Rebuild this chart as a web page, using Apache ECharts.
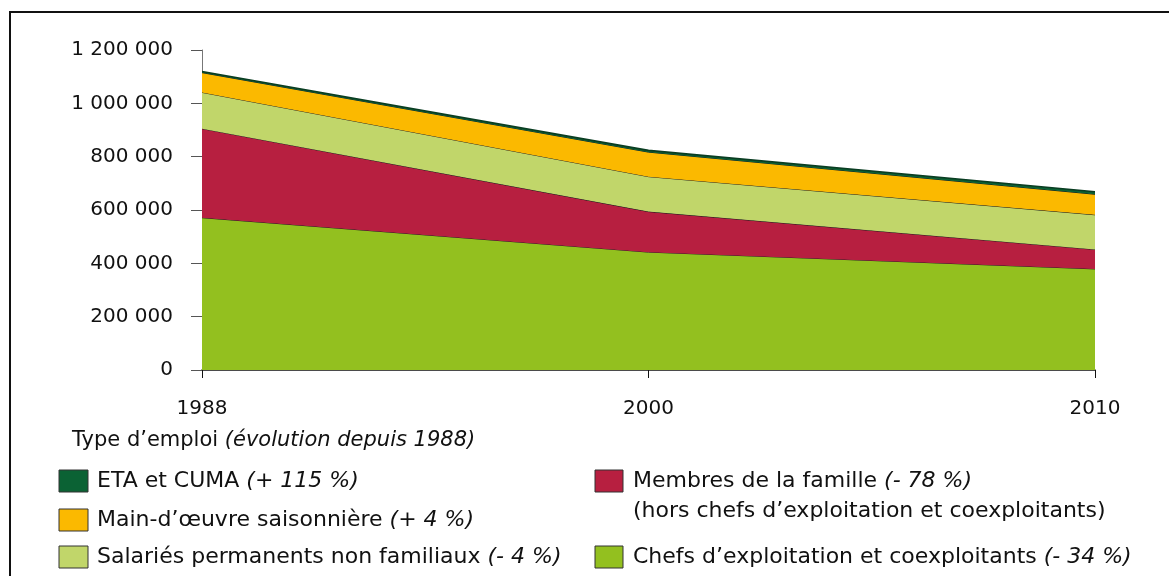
<!DOCTYPE html>
<html>
<head>
<meta charset="utf-8">
<script src="https://cdn.jsdelivr.net/npm/echarts@6/dist/echarts.min.js"></script>
<style>
html,body{margin:0;padding:0;background:#fff;}
#chart{width:1169px;height:576px;}
</style>
</head>
<body>
<div id="chart"></div>
<script>
// ---- data ----
const years = ['1988', '2000', '2010'];
const chefs = [571000, 442000, 379000];
const famille = [334000, 152000, 73000];
const salaries = [136000, 131000, 130000];
const saisonniers = [74000, 92000, 77000];
const etaCuma = [4500, 6500, 9700];

const seriesNames = ['Chefs d’exploitation et coexploitants', 'Membres de la famille', 'Salariés permanents non familiaux', 'Main-d’œuvre saisonnière', 'ETA et CUMA'];
const seriesColors = ['#93c01f', '#b71f40', '#c1d66a', '#fbb900', '#0b6234'];
const legendTitle = ['Type d’emploi', '(évolution depuis 1988)'];
const legendLeft = [
  ['ETA et CUMA', '(+ 115 %)', 4],
  ['Main-d’œuvre saisonnière', '(+ 4 %)', 3],
  ['Salariés permanents non familiaux', '(- 4 %)', 2]
];
const legendRight = [
  ['Membres de la famille', '(- 78 %)', 1, '(hors chefs d’exploitation et coexploitants)'],
  ['Chefs d’exploitation et coexploitants', '(- 34 %)', 0]
];

const seriesData = [chefs, famille, salaries, saisonniers, etaCuma];

const FONT = 'DejaVu Sans, Liberation Sans, sans-serif';
const FS = 20;
const LFS = 22;
const fmt = v => String(v).replace(/\B(?=(\d{3})+(?!\d))/g, ' ');

const chart = echarts.init(document.getElementById('chart'));

const series = seriesData.map((d, i) => ({
  name: seriesNames[i],
  type: 'line',
  stack: 'total',
  data: d,
  symbol: 'none',
  smooth: false,
  lineStyle: { color: i === 4 ? '#0a3d22' : '#1a1a1a', width: i === 4 ? 1.6 : 1 },
  areaStyle: { color: seriesColors[i], opacity: 1 },
  itemStyle: { color: seriesColors[i] },
  z: 2 + i
}));

const mkRich = fs => ({
  n: { fontSize: fs, fontFamily: FONT, fill: '#111' },
  i: { fontSize: fs, fontFamily: FONT, fontStyle: 'italic', fill: '#111' }
});
const rich = mkRich(LFS);

const graphics = [
  { type: 'rect', shape: { x: 10, y: 12, width: 1200, height: 600 }, style: { fill: 'none', stroke: '#111', lineWidth: 2 }, silent: true },
  { type: 'text', x: 72, y: 441, style: { text: '{n|' + legendTitle[0] + ' }{i|' + legendTitle[1] + '}', verticalAlign: 'middle', rich: mkRich(21) } }
];
const rowY = [481, 520, 557];
legendLeft.forEach((it, k) => {
  graphics.push({ type: 'rect', shape: { x: 59, y: rowY[k] - 11, width: 29, height: 22 }, style: { fill: seriesColors[it[2]], stroke: '#333', lineWidth: 1 } });
  graphics.push({ type: 'text', x: 97, y: rowY[k], style: { text: '{n|' + it[0] + ' }{i|' + it[1] + '}', verticalAlign: 'middle', rich: rich } });
});
const rowYR = [481, 557];
legendRight.forEach((it, k) => {
  graphics.push({ type: 'rect', shape: { x: 595, y: rowYR[k] - 11, width: 28, height: 22 }, style: { fill: seriesColors[it[2]], stroke: '#333', lineWidth: 1 } });
  graphics.push({ type: 'text', x: 633, y: rowYR[k], style: { text: '{n|' + it[0] + ' }{i|' + it[1] + '}', verticalAlign: 'middle', rich: rich } });
  if (it[3]) {
    graphics.push({ type: 'text', x: 633, y: rowYR[k] + 30, style: { text: it[3], verticalAlign: 'middle', fontSize: LFS, fontFamily: FONT, fill: '#111' } });
  }
});

chart.setOption({
  animation: false,
  backgroundColor: '#fff',
  grid: { left: 202, right: 74, top: 50, bottom: 206, containLabel: false },
  xAxis: {
    type: 'category',
    data: years,
    boundaryGap: false,
    axisLine: { lineStyle: { color: '#111', width: 1.5 } },
    axisTick: { show: true, length: 8, lineStyle: { color: '#111' } },
    axisLabel: { fontSize: FS, fontFamily: FONT, color: '#111', margin: 29 },
    splitLine: { show: false }
  },
  yAxis: {
    type: 'value',
    min: 0,
    max: 1200000,
    interval: 200000,
    axisLine: { show: true, lineStyle: { color: '#777', width: 1 } },
    axisTick: { show: true, length: 11, lineStyle: { color: '#555' } },
    axisLabel: { fontSize: FS, fontFamily: FONT, color: '#111', margin: 29, formatter: fmt },
    splitLine: { show: false }
  },
  series: series,
  graphic: graphics
});
</script>
</body>
</html>
